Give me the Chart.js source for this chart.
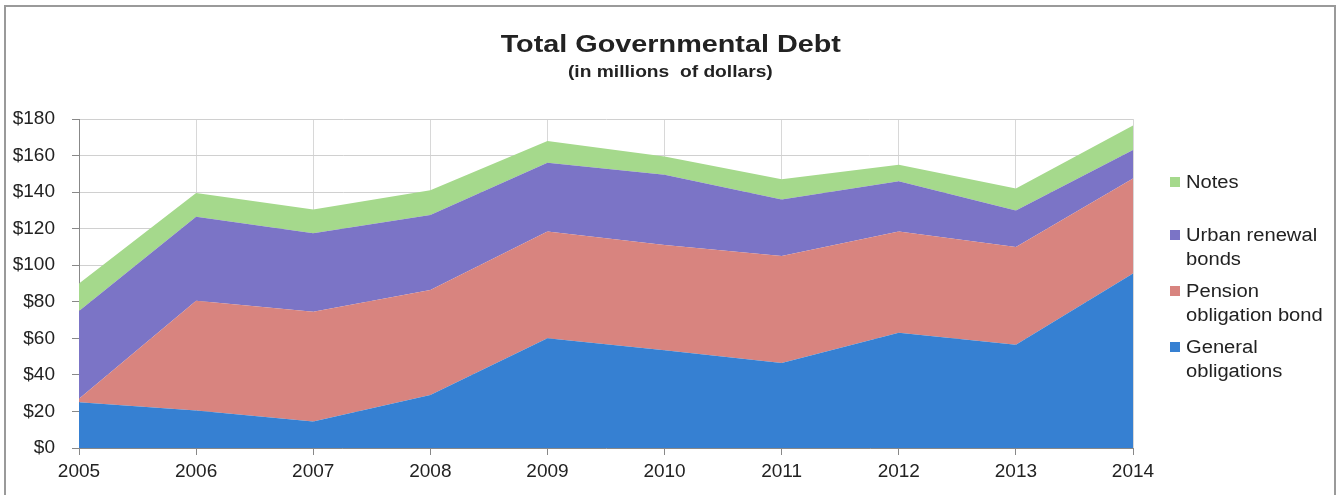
<!DOCTYPE html>
<html>
<head>
<meta charset="utf-8">
<title>Total Governmental Debt</title>
<script src="https://cdn.jsdelivr.net/npm/chart.js@4"></script>
<style>
  body { margin: 0; background: #fff; }
  .wrap { position: relative; width: 1341px; height: 495px; overflow: hidden; font-family: "Liberation Sans", Arial, sans-serif; color: #222; }
  .frame { position: absolute; left: 4px; top: 5px; width: 1332px; height: 520px; border: 2px solid #9a9a9a; box-sizing: border-box; pointer-events: none; }
  .title { position: absolute; left: 0; width: 1341px; text-align: center; font-weight: bold; white-space: pre; }
  .title span { display: inline-block; transform: scaleX(1.2); }
  .t1 { top: 29px; font-size: 24px; line-height: 30px; }
  .t2 { top: 62px; font-size: 16px; line-height: 20px; }
  .legend { position: absolute; left: 1169px; top: 170px; font-size: 18px; line-height: 24px; }
  .legend .item { position: relative; padding-left: 17px; margin-bottom: 8px; }
  .legend .item.notes { margin-bottom: 29px; }
  .legend .txt { display: inline-block; transform: scaleX(1.12); transform-origin: left center; }
  .legend .box { position: absolute; left: 1px; top: 7px; width: 10px; height: 10px; }
</style>
</head>
<body>
<div class="wrap">
  <canvas id="chart" width="1341" height="495"></canvas>
  <div class="frame"></div>
  <div class="title t1"><span>Total Governmental Debt</span></div>
  <div class="title t2"><span>(in millions  of dollars)</span></div>
  <div class="legend" id="legend"></div>
</div>
<script>
// values (millions of dollars)
const years = ['2005', '2006', '2007', '2008', '2009', '2010', '2011', '2012', '2013', '2014'];
const generalObligations = [25, 20.5, 14.5, 29, 60, 53.5, 46.5, 63, 56.5, 95.5];
const pensionBond = [2, 60, 60, 57.5, 58.5, 57.5, 58.5, 55.5, 53.5, 52];
const urbanRenewal = [48, 46, 43, 41, 37.5, 38.5, 31, 27.5, 20, 15.5];
const notes = [15, 13, 13, 13.5, 12, 10, 11, 9, 12, 13.5];

const font = "'Liberation Sans', Arial, sans-serif";

const datasets = [
  { label: 'General\nobligations', data: generalObligations, backgroundColor: '#3680d2', fill: 'origin' },
  { label: 'Pension\nobligation bond', data: pensionBond, backgroundColor: '#d8847f', fill: '-1' },
  { label: 'Urban renewal\nbonds', data: urbanRenewal, backgroundColor: '#7b74c6', fill: '-1' },
  { label: 'Notes', data: notes, backgroundColor: '#a5d98c', fill: '-1' }
].map(d => Object.assign(d, { borderWidth: 0, pointRadius: 0, tension: 0 }));

new Chart(document.getElementById('chart'), {
  type: 'line',
  data: { labels: years, datasets: datasets },
  options: {
    responsive: false,
    animation: false,
    layout: { padding: { left: 8, right: 208, top: 119, bottom: 0 } },
    plugins: {
      legend: { display: false },
      tooltip: { enabled: false }
    },
    scales: {
      x: {
        offset: false,
        grid: { color: '#d8d8d8', tickColor: '#888', tickLength: 7 },
        border: { color: '#888' },
        ticks: { color: '#222', font: { family: font, size: 19 }, padding: 5, maxRotation: 0 },
        afterFit: s => { s.height = 47; }
      },
      y: {
        stacked: true,
        min: 0,
        max: 180,
        grid: { color: '#d0d0d0', tickColor: '#888', tickLength: 7 },
        border: { color: '#888' },
        ticks: { stepSize: 20, color: '#222', font: { family: font, size: 19 }, padding: 17,
                 callback: v => '$' + v },
        afterFit: s => { s.width = 71; }
      }
    }
  }
});

// legend on the right, top to bottom in reverse stack order
const legend = document.getElementById('legend');
datasets.slice().reverse().forEach(d => {
  const item = document.createElement('div');
  item.className = 'item' + (d.label === 'Notes' ? ' notes' : '');
  item.innerHTML = '<span class="box" style="background:' + d.backgroundColor + '"></span>' +
    '<span class="txt">' + d.label.split('\n').join('<br>') + '</span>';
  legend.appendChild(item);
});
</script>
</body>
</html>
